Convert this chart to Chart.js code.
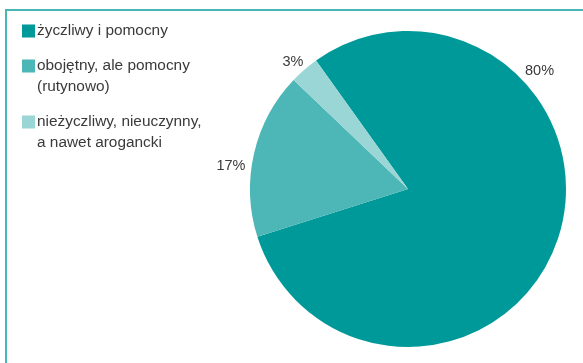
<!DOCTYPE html>
<html>
<head>
<meta charset="utf-8">
<script src="https://cdn.jsdelivr.net/npm/chart.js@4/dist/chart.umd.min.js"></script>
<style>
  html, body { margin: 0; padding: 0; background: #fff; }
  #wrap { position: relative; width: 583px; height: 363px; overflow: hidden; }
  #frame {
    position: absolute; left: 5px; top: 9px; right: -10px; bottom: -10px;
    border-top: 2px solid #4ab7b4; border-left: 2px solid #4ab7b4;
  }
  canvas { position: absolute; left: 0; top: 0; }
</style>
</head>
<body>
<div id="wrap">
  <div id="frame"></div>
  <canvas id="attitudeChart" width="583" height="363"></canvas>
</div>
<script>
const attitudeLabels = [
  ['życzliwy i pomocny'],
  ['obojętny, ale pomocny', '(rutynowo)'],
  ['nieżyczliwy, nieuczynny,', 'a nawet arogancki']
];
const attitudeShares = [80, 17, 3];
const sliceColors = ['#009999', '#4db6b6', '#9ad6d6'];

// legend on the left, drawn on the canvas so long labels can wrap
const sideLegend = {
  id: 'sideLegend',
  afterDraw(chart, args, opts) {
    const ctx = chart.ctx;
    const colors = chart.data.datasets[0].backgroundColor;
    ctx.save();
    ctx.font = opts.font;
    ctx.textBaseline = 'middle';
    ctx.textAlign = 'left';
    let y = opts.top;
    chart.data.labels.forEach((lines, i) => {
      ctx.fillStyle = colors[i];
      ctx.fillRect(opts.left, y - opts.box / 2, opts.box, opts.box);
      ctx.fillStyle = opts.color;
      lines.forEach((line, j) => {
        ctx.fillText(line, opts.left + opts.box + 2, y + j * opts.lineHeight);
      });
      y += lines.length * opts.lineHeight + opts.gap;
    });
    ctx.restore();
  }
};

// percentage labels just outside the pie
const pctLabels = {
  id: 'pctLabels',
  afterDatasetsDraw(chart, args, opts) {
    const ctx = chart.ctx;
    const values = chart.data.datasets[0].data;
    ctx.save();
    ctx.font = opts.font;
    ctx.fillStyle = opts.color;
    ctx.textAlign = 'center';
    ctx.textBaseline = 'middle';
    chart.getDatasetMeta(0).data.forEach((arc, i) => {
      const p = arc.getProps(['x', 'y', 'outerRadius'], true);
      const a = opts.angles[i] * Math.PI / 180;
      const d = p.outerRadius + opts.gaps[i];
      ctx.fillText(values[i] + '%', p.x + d * Math.sin(a), p.y - d * Math.cos(a));
    });
    ctx.restore();
  }
};

const ctx = document.getElementById('attitudeChart').getContext('2d');
const myChart = new Chart(ctx, {
  type: 'pie',
  data: {
    labels: attitudeLabels,
    datasets: [{
      data: attitudeShares,
      backgroundColor: sliceColors,
      borderWidth: 0,
      hoverOffset: 0
    }]
  },
  options: {
    responsive: false,
    animation: false,
    devicePixelRatio: 1,
    events: [],
    rotation: -35.6,
    layout: { padding: { left: 250, right: 17, top: 31, bottom: 16 } },
    plugins: {
      legend: { display: false },
      tooltip: { enabled: false },
      sideLegend: {
        left: 22, top: 31, box: 13, lineHeight: 21, gap: 14,
        font: '15.4px "Liberation Sans", Arial, sans-serif', color: '#3a3a3a'
      },
      pctLabels: {
        angles: [48, 277.4, 317.8],
        gaps: [19, 20.5, 13.3],
        font: '14.5px "Liberation Sans", Arial, sans-serif', color: '#3a3a3a'
      }
    }
  },
  plugins: [sideLegend, pctLabels]
});
</script>
</body>
</html>
